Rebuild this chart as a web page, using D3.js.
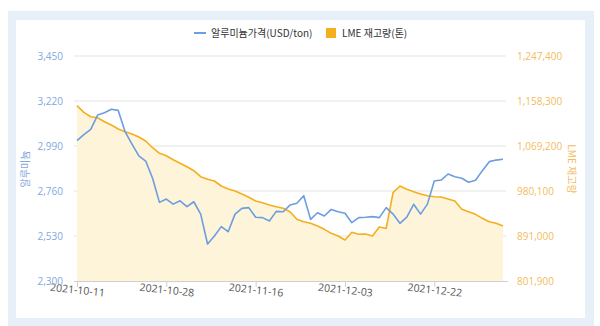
<!DOCTYPE html>
<html>
<head>
<meta charset="utf-8">
<script src="https://cdn.jsdelivr.net/npm/d3@7/dist/d3.min.js"></script>
<style>
  html, body { margin: 0; padding: 0; background: #fff; }
  svg { display: block; font-family: "Noto Sans CJK KR", "Open Sans", sans-serif; }
</style>
</head>
<body>
<svg id="chart" width="600" height="326"></svg>
<script>
// Trading days (category axis)
const dates = [
  "2021-10-11","2021-10-12","2021-10-13","2021-10-14","2021-10-15",
  "2021-10-18","2021-10-19","2021-10-20","2021-10-21","2021-10-22",
  "2021-10-25","2021-10-26","2021-10-27","2021-10-28","2021-10-29",
  "2021-11-01","2021-11-02","2021-11-03","2021-11-04","2021-11-05",
  "2021-11-08","2021-11-09","2021-11-10","2021-11-11","2021-11-12",
  "2021-11-15","2021-11-16","2021-11-17","2021-11-18","2021-11-19",
  "2021-11-22","2021-11-23","2021-11-24","2021-11-25","2021-11-26",
  "2021-11-29","2021-11-30","2021-12-01","2021-12-02","2021-12-03",
  "2021-12-06","2021-12-07","2021-12-08","2021-12-09","2021-12-10",
  "2021-12-13","2021-12-14","2021-12-15","2021-12-16","2021-12-17",
  "2021-12-20","2021-12-21","2021-12-22","2021-12-23","2021-12-24",
  "2021-12-27","2021-12-28","2021-12-29","2021-12-30","2021-12-31",
  "2022-01-03","2022-01-04","2022-01-05"
];

// Aluminium price (USD/ton)
const price = [
  3017, 3048, 3075, 3148, 3160, 3178, 3172, 3063, 3000, 2940,
  2913, 2825, 2702, 2719, 2693, 2710, 2680, 2705, 2642, 2489,
  2530, 2578, 2552, 2642, 2671, 2675, 2626, 2624, 2607, 2656,
  2654, 2688, 2697, 2736, 2615, 2649, 2632, 2666, 2654, 2646,
  2598, 2624, 2626, 2629, 2624, 2675, 2642, 2595, 2626, 2692,
  2642, 2693, 2811, 2816, 2847, 2833, 2825, 2805, 2815, 2864,
  2910, 2918, 2922
];

// LME stock (tonnes)
const stock = [
  1149000, 1135900, 1127200, 1125200, 1117300, 1110800, 1102900, 1097500, 1093000, 1087000,
  1079100, 1065800, 1054700, 1050000, 1042000, 1034900, 1028200, 1020300, 1008400, 1003300,
  999900, 990000, 984100, 980100, 974200, 967600, 960300, 957000, 952400, 949000,
  945800, 939100, 924100, 919300, 916100, 910800, 904200, 896300, 891000, 883100,
  898400, 894400, 895000, 891000, 909000, 906000, 977000, 990000, 983500, 978700,
  974200, 970800, 968800, 968200, 964200, 960300, 943900, 939100, 933900, 926000,
  919300, 916100, 910800
];

const xTickLabels = ["2021-10-11", "2021-10-28", "2021-11-16", "2021-12-03", "2021-12-22"];
const priceTicks = [2300, 2530, 2760, 2990, 3220, 3450];
const stockTicks = [801900, 891000, 980100, 1069200, 1158300, 1247400];

const seriesNames = ["알루미늄가격(USD/ton)", "LME 재고량(톤)"];
const priceAxisName = "알루미늄";
const stockAxisName = "LME 재고량";

const blue = "#6c9de0";
const orange = "#f5ae1c";
const areaFill = "#fdf4da";
const blueText = "#82a8e0";
const orangeText = "#f4bb5e";

const svg = d3.select("#chart");

// Panel frame
svg.append("rect").attr("x", 8).attr("y", 11).attr("width", 586).attr("height", 315).attr("fill", "#e7eff9");
svg.append("rect").attr("x", 16).attr("y", 20).attr("width", 569).attr("height", 298).attr("fill", "#ffffff");

const plot = { left: 75, right: 506, top: 56, bottom: 281 };

const x = d3.scalePoint().domain(dates).range([77, 503]);
const yL = d3.scaleLinear().domain([2300, 3450]).range([plot.bottom, plot.top]);
const yR = d3.scaleLinear().domain([801900, 1247400]).range([plot.bottom, plot.top]);

// Gridlines
svg.append("g").selectAll("line").data(priceTicks.slice(1)).join("line")
  .attr("x1", 74).attr("x2", plot.right)
  .attr("y1", d => yL(d)).attr("y2", d => yL(d))
  .attr("stroke", "#e3e3e3").attr("stroke-width", 1);

// Stock area + line
const idx = d3.range(dates.length);
svg.append("path")
  .datum(idx)
  .attr("fill", areaFill)
  .attr("d", d3.area().x(i => x(dates[i])).y0(plot.bottom).y1(i => yR(stock[i])));

svg.append("path")
  .datum(idx)
  .attr("fill", "none").attr("stroke", orange).attr("stroke-width", 1.6)
  .attr("stroke-linejoin", "round")
  .attr("d", d3.line().x(i => x(dates[i])).y(i => yR(stock[i])));

// Price line
svg.append("path")
  .datum(idx)
  .attr("fill", "none").attr("stroke", blue).attr("stroke-width", 1.6)
  .attr("stroke-linejoin", "round")
  .attr("d", d3.line().x(i => x(dates[i])).y(i => yL(price[i])));

// X axis
const xAxis = d3.axisBottom(x).tickValues(xTickLabels).tickSize(6).tickPadding(4);
const gx = svg.append("g").attr("transform", `translate(0,${plot.bottom})`).call(xAxis);
gx.select(".domain").attr("stroke", "#cfcfcf").attr("d", `M74,0.5H508`);
gx.selectAll(".tick line").attr("stroke", "#cfcfcf");
gx.selectAll(".tick text")
  .attr("fill", "#555").attr("font-size", "10.5px")
  .attr("y", 0).attr("dy", "0.35em")
  .attr("transform", "translate(0,9) rotate(6)")
  .style("font-family", "'Open Sans', sans-serif");

// Left axis
const gl = svg.append("g").attr("transform", `translate(63,0)`)
  .call(d3.axisLeft(yL).tickValues(priceTicks).tickSize(0).tickPadding(0).tickFormat(d3.format(",")));
gl.select(".domain").remove();
gl.selectAll(".tick text").attr("fill", blueText).attr("font-size", "10px")
  .style("font-family", "'Open Sans', sans-serif");

// Right axis
const gr = svg.append("g").attr("transform", `translate(517,0)`)
  .call(d3.axisRight(yR).tickValues(stockTicks).tickSize(0).tickPadding(0).tickFormat(d3.format(",")));
gr.select(".domain").remove();
gr.selectAll(".tick text").attr("fill", orangeText).attr("font-size", "10px")
  .style("font-family", "'Open Sans', sans-serif");

// Axis names
svg.append("text").attr("transform", "translate(29,169) rotate(-90)")
  .attr("text-anchor", "middle").attr("fill", blueText).attr("font-size", "10px")
  .text(priceAxisName);
svg.append("text").attr("transform", "translate(568,169) rotate(90)")
  .attr("text-anchor", "middle").attr("fill", orangeText).attr("font-size", "10px")
  .text(stockAxisName);

// Legend
const lg = svg.append("g");
lg.append("line").attr("x1", 194).attr("x2", 206).attr("y1", 33).attr("y2", 33)
  .attr("stroke", blue).attr("stroke-width", 2);
lg.append("text").attr("x", 211).attr("y", 37).attr("fill", "#333").attr("font-size", "10px")
  .text(seriesNames[0]);
lg.append("rect").attr("x", 326).attr("y", 28).attr("width", 10).attr("height", 10)
  .attr("fill", orange);
lg.append("text").attr("x", 342).attr("y", 37).attr("fill", "#333").attr("font-size", "10px")
  .text(seriesNames[1]);
</script>
</body>
</html>
